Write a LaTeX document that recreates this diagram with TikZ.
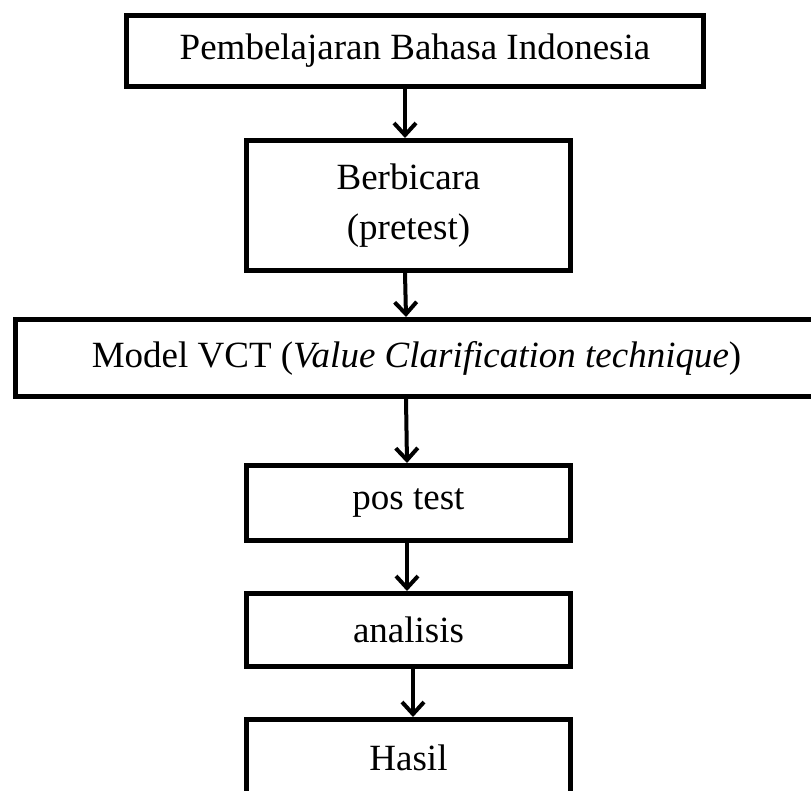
\documentclass[tikz,border=0pt]{standalone}
\usepackage{fontspec}
\setmainfont{Liberation Serif}
\usetikzlibrary{arrows.meta}
\begin{document}
\begin{tikzpicture}[x=1pt,y=-1pt,
  box/.style={draw=black, line width=5pt, rectangle, inner sep=0pt, align=center,
    font=\fontsize{37}{50}\selectfont},
  arr/.style={line width=4pt, -{Straight Barb[length=12pt,width=22pt]}}]
\useasboundingbox (0,0) rectangle (811,790);
\node[box, minimum width=577pt, minimum height=71pt] (b1) at (415,51) {Pembelajaran Bahasa Indonesia};
\node[box, minimum width=324pt, minimum height=130pt] (b2) at (408.5,205.5) {Berbicara\\(pretest)};
\node[box, minimum width=802pt, minimum height=77pt] (b3) at (416.5,358) {Model VCT (\textit{Value Clarification technique})};
\node[box, minimum width=324pt, minimum height=75pt] (b4) at (408.5,503) {pos test};
\node[box, minimum width=324pt, minimum height=73pt] (b5) at (408.5,630) {analisis};
\node[box, minimum width=324pt, minimum height=76pt] (b6) at (408.5,757.5) {Hasil};
\draw[arr] ([xshift=-10pt]b1.south) -- ([xshift=-3.5pt]b2.north);
\draw[arr] ([xshift=-3.5pt]b2.south) -- ([xshift=-10.5pt]b3.north);
\draw[arr] ([xshift=-10.5pt]b3.south) -- ([xshift=-1.5pt]b4.north);
\draw[arr] ([xshift=-1.5pt]b4.south) -- ([xshift=-1.5pt]b5.north);
\draw[arr] ([xshift=4.5pt]b5.south) -- ([xshift=4.5pt]b6.north);
\end{tikzpicture}
\end{document}
